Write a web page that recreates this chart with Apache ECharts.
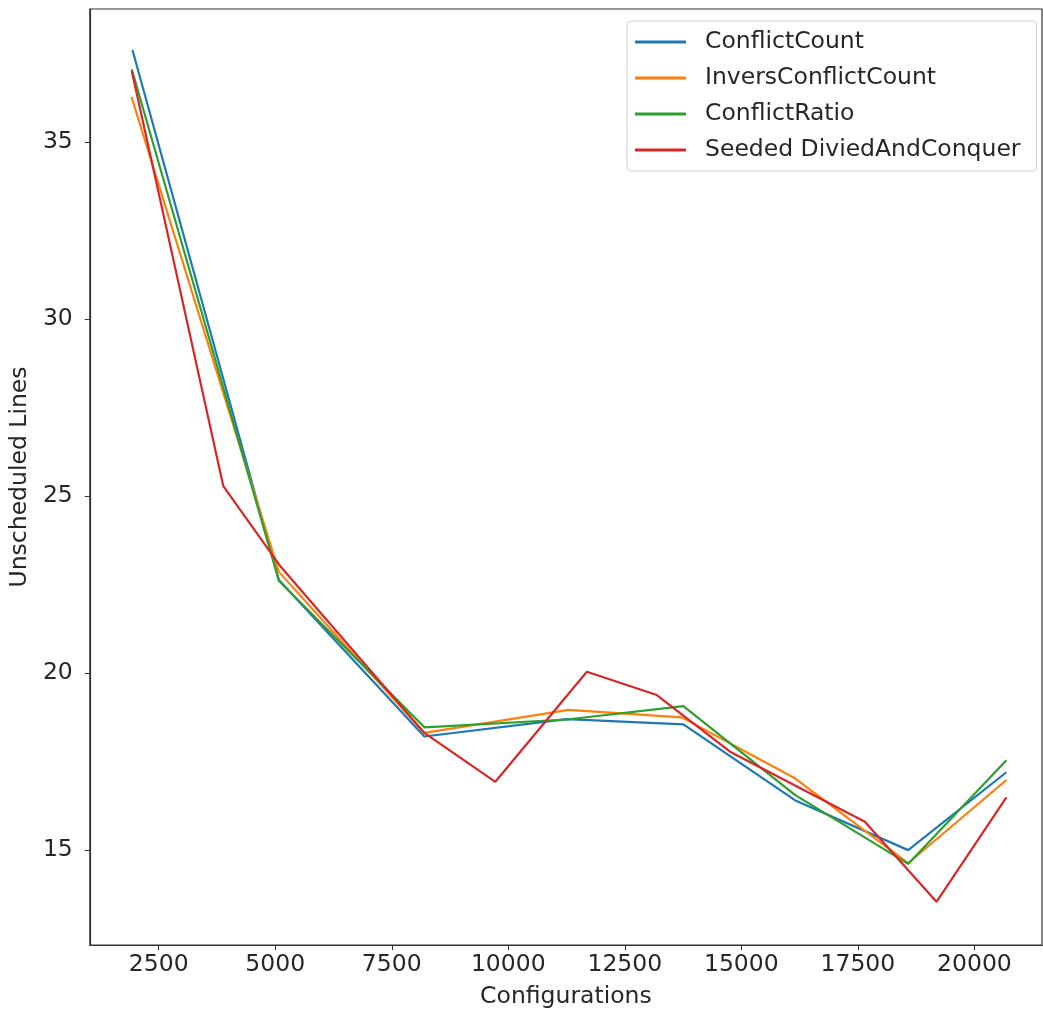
<!DOCTYPE html>
<html>
<head>
<meta charset="utf-8">
<title>Unscheduled Lines vs Configurations</title>
<script src="https://cdn.jsdelivr.net/npm/echarts@6/dist/echarts.min.js"></script>
<style>
  html, body { margin: 0; padding: 0; background: #fff; }
  #chart { width: 1043px; height: 1017px; }
</style>
</head>
<body>
<div id="chart"></div>
<script>
// Number of configurations explored by each heuristic, with unscheduled lines left over
const conflictCountX = [1937, 5078, 8200, 11258, 13757, 16149, 18578, 20686];
const conflictCountY = [37.59, 22.62, 18.2, 18.69, 18.54, 16.40, 14.99, 17.19];

const inversConflictCountX = [1915, 5078, 8200, 11293, 13722, 16149, 18578, 20686];
const inversConflictCountY = [36.27, 22.85, 18.30, 18.95, 18.74, 17.02, 14.62, 16.97];

const conflictRatioX = [1922, 5078, 8200, 11258, 13757, 16149, 18578, 20686];
const conflictRatioY = [37.05, 22.6, 18.46, 18.68, 19.06, 16.55, 14.60, 17.53];

const seededX = [1922, 3887, 5115, 8200, 9722, 11686, 13186, 14757, 17650, 19186, 20686];
const seededY = [37.0, 25.27, 23.0, 18.3, 16.92, 20.03, 19.37, 17.77, 15.79, 13.53, 16.48];

const seriesNames = ['ConflictCount', 'InversConflictCount', 'ConflictRatio', 'Seeded DiviedAndConquer'];
const seriesColors = ['#1f77b4', '#ff7f0e', '#2ca02c', '#d62728'];

const xTicks = [2500, 5000, 7500, 10000, 12500, 15000, 17500, 20000];
const yTicks = [15, 20, 25, 30, 35];

const pairs = (xs, ys) => xs.map((x, i) => [x, ys[i]]);
const seriesData = [
  pairs(conflictCountX, conflictCountY),
  pairs(inversConflictCountX, inversConflictCountY),
  pairs(conflictRatioX, conflictRatioY),
  pairs(seededX, seededY)
];

const FONT = 'DejaVu Sans';
const TXT = '#262626';
const FS = 23.5;

const chart = echarts.init(document.getElementById('chart'), null, { renderer: 'canvas' });

chart.setOption({
  animation: false,
  backgroundColor: '#ffffff',
  textStyle: { fontFamily: FONT },
  grid: {
    left: 89, top: 9, right: 1, bottom: 72,
    show: true, borderColor: '#333333', borderWidth: 1.2,
    containLabel: false
  },
  legend: {
    orient: 'vertical',
    left: 627, top: 21,
    padding: [8, 16, 8, 8],
    itemGap: 10,
    itemWidth: 51,
    itemHeight: 3,
    icon: 'rect',
    borderColor: '#d0d0d0', borderWidth: 1, borderRadius: 4,
    backgroundColor: 'rgba(255,255,255,0.8)',
    textStyle: { fontFamily: FONT, fontSize: FS, color: TXT, padding: [0, 0, 0, 14], lineHeight: 26 },
    data: seriesNames
  },
  xAxis: {
    type: 'value',
    min: 1022, max: 21450,
    name: 'Configurations',
    nameLocation: 'middle',
    nameGap: 40,
    nameTextStyle: { fontFamily: FONT, fontSize: FS, color: TXT },
    splitLine: { show: false },
    axisLine: { show: true, onZero: false, lineStyle: { color: '#333333', width: 1.2 } },
    axisTick: { show: true, inside: false, length: 5, customValues: xTicks, lineStyle: { color: '#333333' } },
    axisLabel: {
      customValues: xTicks,
      margin: 8,
      fontFamily: FONT, fontSize: FS, color: TXT,
      formatter: v => String(v)
    }
  },
  yAxis: {
    type: 'value',
    min: 12.31, max: 38.75,
    name: 'Unscheduled Lines',
    nameLocation: 'middle',
    nameGap: 53,
    nameTextStyle: { fontFamily: FONT, fontSize: FS, color: TXT },
    splitLine: { show: false },
    axisLine: { show: true, onZero: false, lineStyle: { color: '#333333', width: 1.2 } },
    axisTick: { show: true, inside: false, length: 5, customValues: yTicks, lineStyle: { color: '#333333' } },
    axisLabel: {
      customValues: yTicks,
      margin: 17,
      fontFamily: FONT, fontSize: FS, color: TXT,
      formatter: v => String(v)
    }
  },
  series: seriesNames.map((name, i) => ({
    name: name,
    type: 'line',
    data: seriesData[i],
    showSymbol: false,
    symbol: 'none',
    smooth: false,
    color: seriesColors[i],
    lineStyle: { color: seriesColors[i], width: 2.2 },
    emphasis: { disabled: true }
  }))
});
</script>
</body>
</html>
